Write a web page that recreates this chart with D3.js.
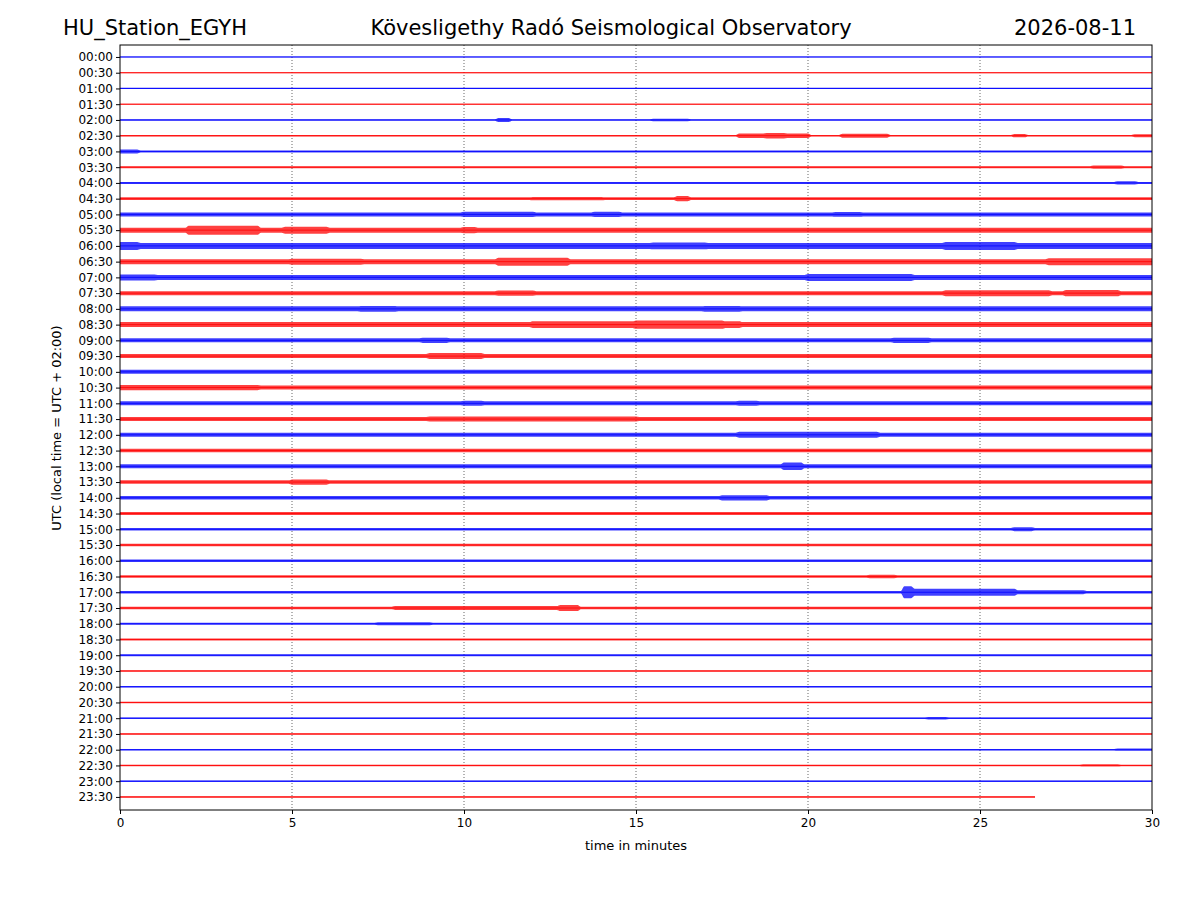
<!DOCTYPE html>
<html><head><meta charset="utf-8">
<script src="https://cdn.jsdelivr.net/npm/d3@7"></script>
<style>body{margin:0;background:#fff}text{font-family:"DejaVu Sans",sans-serif}</style>
</head><body><svg id="c" width="1200" height="900"></svg>
<script>
// row labels (UTC), every 30 min
const rowLabels = d3.range(48).map(i => String(Math.floor(i / 2)).padStart(2, '0') + ':' + (i % 2 ? '30' : '00'));
// base envelope half-amplitude per row (px-ish units)
const baseAmp = [0.5,0.5,0.6,0.5,0.7,0.8,1,1,1,1.3,2,2.5,3,2.5,2.5,2,2.5,2.5,2,2,2,2,2,2,2,1.7,2,1.8,1.8,1.5,1.3,1.3,1.2,1.2,1.3,1.2,1,1,0.9,0.8,0.7,0.8,0.8,0.7,0.7,0.7,0.8,0.8];
// bursts: [row, startMin, endMin, amp]
const events = [
  [4,11,11.3,2],[4,15.5,16.5,1.2],[5,18,20,2.2],[5,18.8,19.3,2.8],[5,21,22.3,2],[5,26,26.3,1.6],[5,29.5,30,1.5],
  [6,0,0.6,2],[7,28.3,29.2,1.6],[8,29,29.5,1.6],[9,12,14,1.6],[9,16.2,16.5,2.6],
  [10,10,12,2.6],[10,13.8,14.5,2.6],[10,20.8,21.5,2.3],
  [11,2,4,4.5],[11,4.8,6,3.5],[11,10,10.3,3.2],[12,0,0.6,4],[12,24,26,4],[12,15.5,17,3.3],
  [13,5,7,3],[13,11,13,4],[13,27,30,3.5],[14,0,1,3],[14,20,23,3.5],
  [15,11,12,2.6],[15,24,27,3],[15,27.5,29,3.2],[16,7,8,2.8],[16,17,18,2.8],
  [17,12,18,3.3],[17,15,17.5,4.2],[18,8.8,9.5,2.6],[18,22.5,23.5,2.6],[19,9,10.5,3],
  [21,0,4,2.6],[22,10,10.5,2.5],[22,18,18.5,2.5],[23,9,15,2.5],[24,18,22,3],
  [26,19.3,19.8,3.8],[27,5,6,2.6],[28,17.5,18.8,2.6],[30,26,26.5,2],[33,21.8,22.5,1.8],
  [34,22.8,23,6],[34,23,26,3.5],[34,26,28,2],[35,8,13,1.9],[35,12.8,13.3,3],
  [36,7.5,9,1.4],[45,28,29,1.1],[42,23.5,24,1.2],[44,29,30,1.1]
];
const lastRowEnd = 26.6;
const xTicks = [0,5,10,15,20,25,30];

const svg = d3.select('#c');
const L = 120, R = 1152, T = 45, B = 810;
const x = d3.scaleLinear().domain([0, 30]).range([L, R]);
const y = d3.scaleLinear().domain([-0.76, 47.83]).range([T, B]);

const g = svg.append('g');
g.selectAll('line.grid').data(xTicks.slice(1, -1)).join('line')
  .attr('x1', d => x(d)).attr('x2', d => x(d)).attr('y1', T).attr('y2', B)
  .attr('stroke', '#000').attr('stroke-width', 0.6).attr('stroke-dasharray', '1,2');

const steps = d3.range(0, 30.01, 0.1);
rowLabels.forEach((lab, i) => {
  const col = i % 2 ? '#ff0000' : '#0000ff';
  const end = i === 47 ? lastRowEnd : 30;
  const pts = steps.filter(t => t <= end).map(t => {
    let a = baseAmp[i];
    events.forEach(e => { if (e[0] === i && t >= e[1] && t <= e[2]) a = Math.max(a, e[3]); });
    return [t, a];
  });
  const cy = y(i);
  const area = d3.area().x(d => x(d[0])).y0(d => cy - d[1]).y1(d => cy + d[1]).curve(d3.curveMonotoneX);
  g.append('path').attr('d', area(pts)).attr('fill', col).attr('opacity', 0.75);
  g.append('line').attr('x1', x(0)).attr('x2', x(end)).attr('y1', cy).attr('y2', cy)
    .attr('stroke', col).attr('stroke-width', 0.8);
});

svg.append('rect').attr('x', L).attr('y', T).attr('width', R - L).attr('height', B - T)
  .attr('fill', 'none').attr('stroke', '#000').attr('stroke-width', 1);

const xa = svg.append('g').attr('transform', `translate(0,${B})`)
  .call(d3.axisBottom(x).tickValues(xTicks).tickSize(4).tickPadding(4));
const ya = svg.append('g').attr('transform', `translate(${L},0)`)
  .call(d3.axisLeft(y).tickValues(d3.range(48)).tickFormat(i => rowLabels[i]).tickSize(4).tickPadding(3));
[xa, ya].forEach(a => { a.select('.domain').remove(); a.selectAll('text').attr('font-size', 12).attr('fill', '#000').style('font-family', 'DejaVu Sans'); });

svg.append('text').attr('x', 636).attr('y', 850).attr('text-anchor', 'middle').attr('font-size', 13).text('time in minutes');
svg.append('text').attr('transform', 'translate(61,428) rotate(-90)').attr('text-anchor', 'middle').attr('font-size', 13).text('UTC (local time = UTC + 02:00)');
svg.append('text').attr('x', 63).attr('y', 35).attr('font-size', 21).text('HU_Station_EGYH');
svg.append('text').attr('x', 611).attr('y', 35).attr('text-anchor', 'middle').attr('font-size', 21).text('Kövesligethy Radó Seismological Observatory');
svg.append('text').attr('x', 1136).attr('y', 35).attr('text-anchor', 'end').attr('font-size', 21).text('2026-08-11');
</script></body></html>
